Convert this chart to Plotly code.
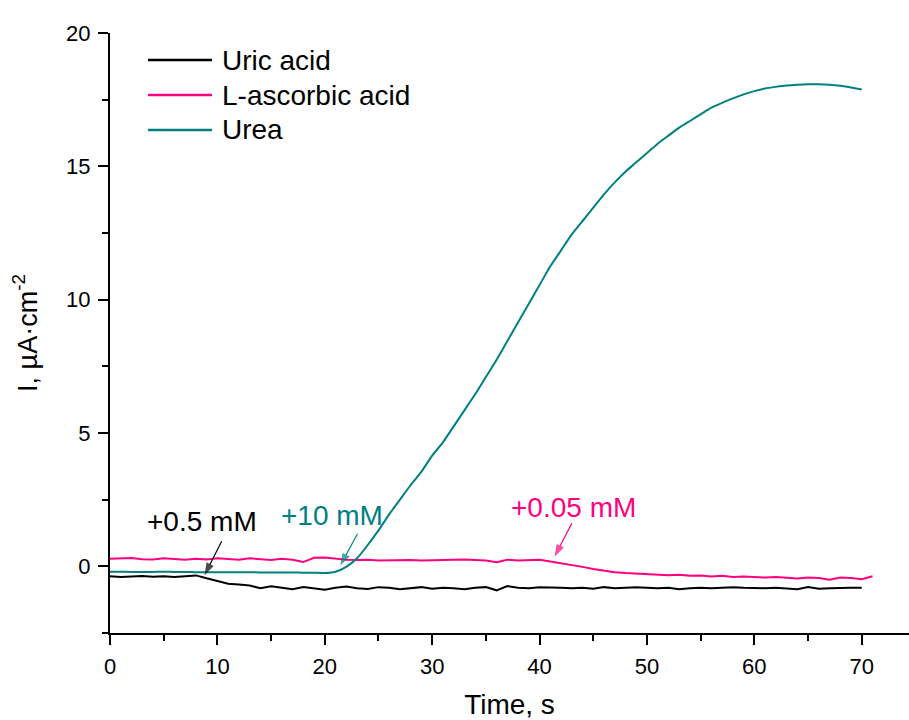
import plotly.graph_objects as go

# ---- data ----
t_uric = list(range(0, 71))
uric_acid = [-0.37, -0.40, -0.38, -0.36, -0.39, -0.37, -0.40, -0.36, -0.34, -0.45,
             -0.55, -0.65, -0.68, -0.72, -0.82, -0.75, -0.80, -0.86, -0.78, -0.82,
             -0.88, -0.80, -0.76, -0.82, -0.85, -0.78, -0.80, -0.86, -0.82, -0.78,
             -0.84, -0.80, -0.82, -0.86, -0.80, -0.78, -0.90, -0.74, -0.80, -0.82,
             -0.78, -0.78, -0.80, -0.82, -0.80, -0.84, -0.78, -0.82, -0.80, -0.78,
             -0.80, -0.82, -0.80, -0.86, -0.82, -0.80, -0.82, -0.80, -0.78, -0.80,
             -0.82, -0.82, -0.80, -0.82, -0.86, -0.78, -0.84, -0.82, -0.80, -0.80,
             -0.80]

t_ascorbic = list(range(0, 72))
ascorbic_acid = [0.28, 0.30, 0.31, 0.27, 0.26, 0.30, 0.27, 0.25, 0.28, 0.26,
                 0.30, 0.28, 0.25, 0.30, 0.26, 0.24, 0.28, 0.25, 0.16, 0.32,
                 0.33, 0.28, 0.25, 0.24, 0.25, 0.22, 0.23, 0.22, 0.24, 0.22,
                 0.23, 0.24, 0.25, 0.26, 0.24, 0.22, 0.15, 0.25, 0.22, 0.24,
                 0.25, 0.18, 0.12, 0.05, -0.02, -0.10, -0.16, -0.22, -0.25, -0.27,
                 -0.30, -0.30, -0.33, -0.32, -0.35, -0.34, -0.38, -0.35, -0.40, -0.38,
                 -0.40, -0.42, -0.40, -0.44, -0.46, -0.42, -0.44, -0.50, -0.42, -0.44,
                 -0.48, -0.37]

t_urea = list(range(0, 71))
urea = [-0.20, -0.20, -0.21, -0.21, -0.21, -0.20, -0.21, -0.21, -0.22, -0.22,
        -0.22, -0.22, -0.22, -0.22, -0.23, -0.23, -0.23, -0.23, -0.24, -0.24,
        -0.25, -0.20, -0.02, 0.30, 0.80, 1.35, 1.95, 2.50, 3.05, 3.55,
        4.15, 4.65, 5.25, 5.85, 6.45, 7.10, 7.75, 8.45, 9.15, 9.85,
        10.55, 11.25, 11.85, 12.45, 12.95, 13.45, 13.95, 14.40, 14.80, 15.15,
        15.50, 15.85, 16.15, 16.45, 16.70, 16.95, 17.20, 17.38, 17.55, 17.70,
        17.82, 17.92, 17.98, 18.03, 18.06, 18.08, 18.08, 18.06, 18.02, 17.96,
        17.88]

series_names = ["Uric acid", "L-ascorbic acid", "Urea"]
series_colors = ["#000000", "#FF0080", "#008080"]
series_shapes = ["linear", "linear", "spline"]

# additions: label, colour, text position (x, y), arrow tail (x, y), arrow tip (x, y)
add_labels = ["+0.5 mM", "+10 mM", "+0.05 mM"]
add_colors = ["#000000", "#008080", "#FF0080"]
add_text_xy = [(8.6, 1.68), (20.7, 1.90), (43.2, 2.21)]
add_tail_xy = [(10.4, 0.94), (23.05, 1.22), (43.0, 1.61)]
add_tip_xy = [(8.8, -0.33), (21.44, 0.03), (41.4, 0.36)]

x_ticks = [0, 10, 20, 30, 40, 50, 60, 70]
y_ticks = [0, 5, 10, 15, 20]

FONT = "Liberation Sans, Arial, sans-serif"
W, H = 909, 720
ML, MR, MT, MB = 110, 0, 33, 87


def px_to_paper(px, py):
    return ((px - ML) / (W - ML - MR), (H - MB - py) / (H - MT - MB))


fig = go.Figure()
for t, vals, name, col, shp in zip([t_uric, t_ascorbic, t_urea],
                                   [uric_acid, ascorbic_acid, urea],
                                   series_names, series_colors, series_shapes):
    fig.add_trace(go.Scatter(x=t, y=vals, mode="lines", name=name,
                             line=dict(color=col, width=2, shape=shp,
                                       smoothing=0.6),
                             showlegend=False))

# addition labels and arrows
for lab, txy, tail, tip, col in zip(add_labels, add_text_xy, add_tail_xy,
                                    add_tip_xy, add_colors):
    fig.add_annotation(x=txy[0], y=txy[1], text=lab, showarrow=False,
                       font=dict(family=FONT, size=28, color=col))
    fig.add_trace(go.Scatter(x=[tail[0], tip[0]], y=[tail[1], tip[1]],
                             mode="lines+markers", showlegend=False,
                             hoverinfo="skip",
                             line=dict(color=col, width=1.2),
                             marker=dict(symbol=["line-ns", "arrow"],
                                         size=[0, 13], angleref="previous",
                                         color=col,
                                         line=dict(width=0, color=col))))

# legend (drawn as in the reference: long line samples, tight rows)
legend_rows_py = [60, 95, 130]
for name, col, py in zip(series_names, series_colors, legend_rows_py):
    x0, y0 = px_to_paper(148, py)
    x1, _ = px_to_paper(212, py)
    xt, _ = px_to_paper(220, py)
    fig.add_shape(type="line", xref="paper", yref="paper",
                  x0=x0, x1=x1, y0=y0, y1=y0,
                  line=dict(color=col, width=2.5))
    fig.add_annotation(xref="paper", yref="paper", x=xt, y=y0, text=name,
                       showarrow=False, xanchor="left", yanchor="middle",
                       font=dict(family=FONT, size=28, color="black"))

axis_common = dict(showline=True, linewidth=2, linecolor="black",
                   ticks="outside", ticklen=10, tickwidth=2, tickcolor="black",
                   showgrid=False, zeroline=False, automargin=False,
                   tickfont=dict(family=FONT, size=22, color="black"))

fig.update_xaxes(range=[0, 74.4], tickvals=x_ticks, ticklabelstandoff=3,
                 minor=dict(dtick=5, tick0=0, ticks="outside", ticklen=6,
                            tickwidth=2, tickcolor="black", showgrid=False),
                 title=dict(text="Time, s", standoff=16,
                            font=dict(family=FONT, size=28, color="black")),
                 **axis_common)
fig.update_yaxes(range=[-2.5, 20], tickvals=y_ticks, ticklabelstandoff=3,
                 minor=dict(dtick=2.5, tick0=0, ticks="outside", ticklen=6,
                            tickwidth=2, tickcolor="black", showgrid=False),
                 title=dict(text="I, µA·cm<sup>-2</sup>", standoff=21,
                            font=dict(family=FONT, size=27, color="black")),
                 **axis_common)

fig.update_layout(
    width=W, height=H,
    margin=dict(l=ML, r=MR, t=MT, b=MB),
    plot_bgcolor="white", paper_bgcolor="white",
    font=dict(family=FONT, color="black"),
    showlegend=False,
)

# the page's default 8px body margin would shift the 909x720 figure; remove it
fig.write_html("out.html",
               config={"displayModeBar": False},
               post_script="document.body.style.margin='0';"
                           "document.body.style.overflow='hidden';")
